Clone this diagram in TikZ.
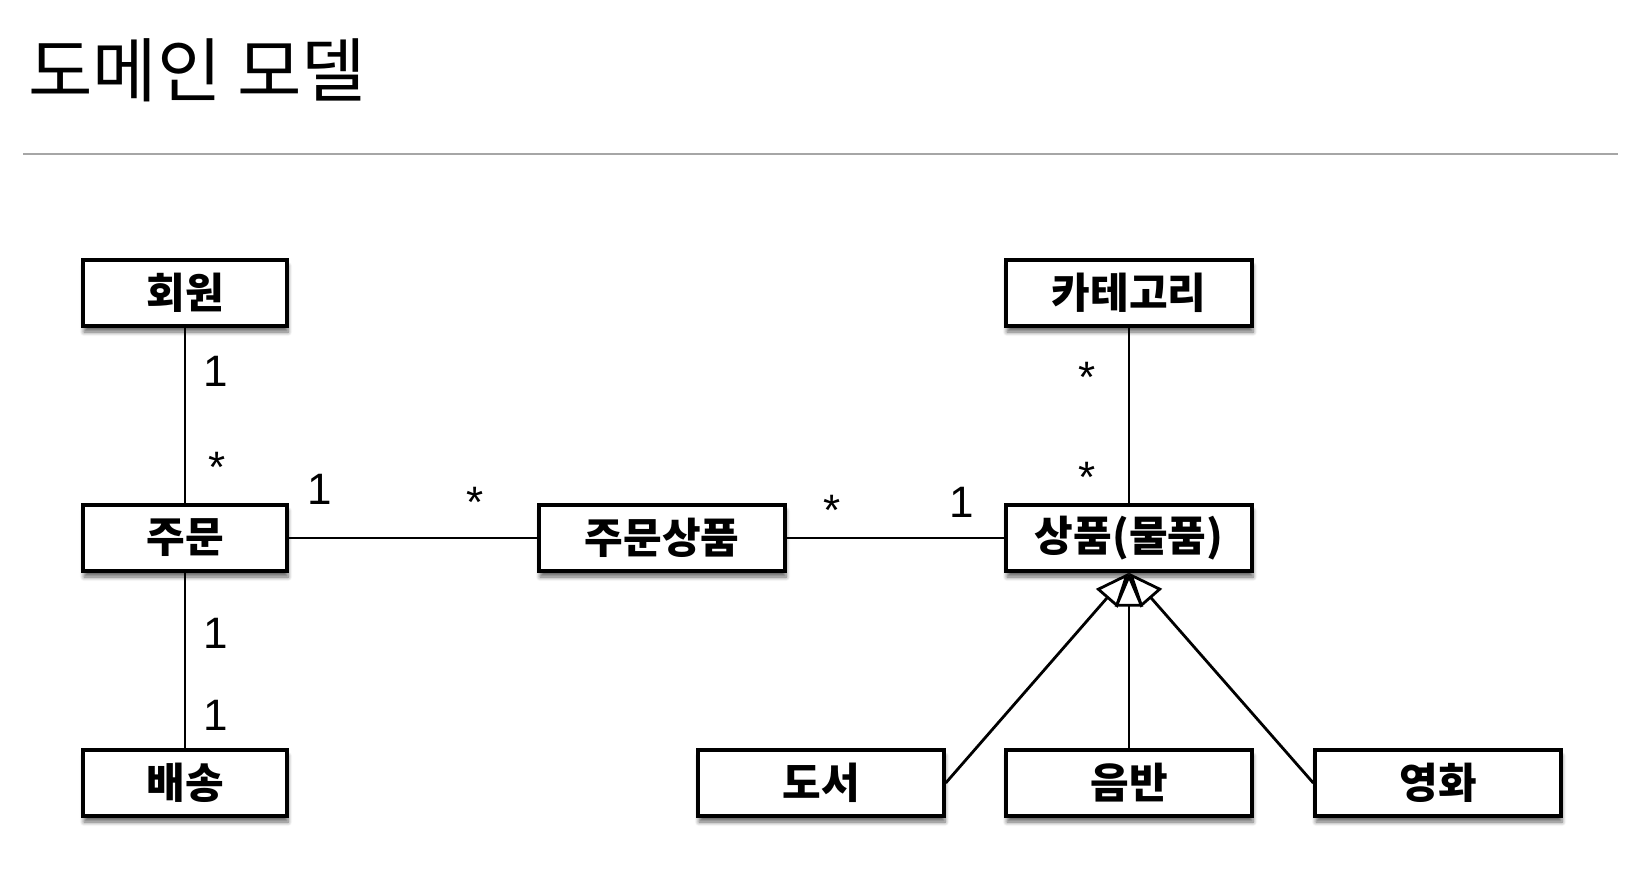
\documentclass[tikz,border=0pt]{standalone}
\usepackage{fontspec}
\setmainfont{Liberation Sans}
\newfontfamily\kr{Noto Sans CJK KR}
\usetikzlibrary{calc,arrows.meta,shadows.blur}

\tikzset{
	entity/.style={draw, line width=1.7pt, fill=white, inner sep=0pt,
		minimum width=123pt, minimum height=33pt,
		font=\kr\bfseries\fontsize{21}{25}\selectfont,
		blur shadow={shadow xshift=0.5pt, shadow yshift=-3pt, shadow blur steps=6, shadow opacity=60}},
	narrow/.style={minimum width=102pt},
	link/.style={line width=1.4pt},
	gen/.style={-{Triangle[fill=white, length=17pt, width=14pt]}},
	mult/.style={anchor=base, font=\fontsize{22}{26}\selectfont},
	heading/.style={anchor=base west, inner sep=0pt, font=\kr\fontsize{35}{40}\selectfont}
}

\begin{document}
\begin{tikzpicture}[x=0.5pt, y=-0.5pt]
	\useasboundingbox (0,0) rectangle (1648,892);

	% points
	\coordinate (M) at (185,293);
	\coordinate (O) at (185,538);
	\coordinate (D) at (185,783);
	\coordinate (OI) at (662,538);
	\coordinate (I) at (1129,538);
	\coordinate (C) at (1129,293);
	\coordinate (B) at (821,783);
	\coordinate (A) at (1129,783);
	\coordinate (F) at (1438,783);

	\coordinate (R1) at (23,154);
	\coordinate (R2) at (1618,154);

	% title
	\node[heading] (title) at (28,97) {도메인 모델};
	\draw[gray!70, line width=0.75pt] (R1) -- (R2);

	% boxes
	\node[entity, narrow] (member) at (M) {회원};
	\node[entity, narrow] (order) at (O) {주문};
	\node[entity, narrow] (delivery) at (D) {배송};
	\node[entity] (orderitem) at (OI) {주문상품};
	\node[entity] (item) at (I) {상품(물품)};
	\node[entity] (category) at (C) {카테고리};
	\node[entity] (book) at (B) {도서};
	\node[entity] (album) at (A) {음반};
	\node[entity] (movie) at (F) {영화};

	% associations
	\draw[link] (member) -- (order);
	\draw[link] (order) -- (delivery);
	\draw[link] (order) -- (orderitem);
	\draw[link] (orderitem) -- (item);
	\draw[link] (category) -- (item);

	% inheritance
	\draw[link, gen] (book.east) -- (item.south);
	\draw[link, gen] (movie.west) -- (item.south);
	\draw[link, gen] (album) -- (item);

	% multiplicities
	\node[mult] (m1) at (216,387) {1};
	\node[mult] (m2) at (217,483) {*};
	\node[mult] (m3) at (320,505) {1};
	\node[mult] (m4) at (475,517) {*};
	\node[mult] (m5) at (832,525) {*};
	\node[mult] (m6) at (962,517) {1};
	\node[mult] (m7) at (1087,393) {*};
	\node[mult] (m8) at (1087,493) {*};
	\node[mult] (m9) at (216,648) {1};
	\node[mult] (m10) at (216,730) {1};

\end{tikzpicture}
\end{document}
